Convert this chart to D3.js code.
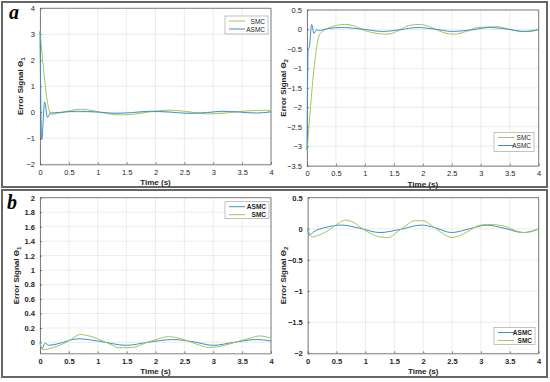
<!DOCTYPE html>
<html>
<head>
<meta charset="utf-8">
<script src="https://d3js.org/d3.v7.min.js"></script>
<style>
  body { margin: 0; background: white; }
  svg { font-family: Arial, "Liberation Sans", sans-serif; }
  .grid line { stroke: #e4e4e4; stroke-width: 0.7; }
  .axis text { fill: #262626; }
  .axis path, .axis line { stroke: #4d4d4d; stroke-width: 0.7; }
</style>
</head>
<body>
<svg id="chart" width="550" height="382"></svg>
<script>
// ---- data ----
var smcColor = "#a3c65c";
var asmcColor = "#3f8fc5";

// panel a, theta 1
var a1_smc_t = [0, 0.17, 0.2, 0.3, 0.5, 0.7, 0.9, 1.1, 1.35, 1.6, 1.9, 2.25, 2.5, 2.9, 3.2, 3.5, 3.9, 4];
var a1_smc_y = [3.14, 0, -0.08, -0.04, 0.05, 0.12, 0.07, -0.02, -0.1, -0.08, 0.02, 0.08, 0.04, -0.06, -0.03, 0.04, 0.08, 0.07];
var a1_asmc_t = [0, 0.03, 0.08, 0.13, 0.18, 0.25, 0.65, 1.0, 1.3, 1.6, 1.9, 2.25, 2.55, 2.9, 3.15, 3.45, 3.75, 4];
var a1_asmc_y = [3.1, -1.05, 0.4, -0.2, -0.03, -0.02, 0.04, 0.01, -0.04, -0.01, 0.04, 0.01, -0.04, -0.01, 0.04, 0.01, -0.03, 0.02];

// panel a, theta 2
var a2_smc_t = [0, 0.22, 0.3, 0.45, 0.65, 0.8, 0.95, 1.2, 1.4, 1.55, 1.75, 1.95, 2.15, 2.4, 2.55, 2.75, 2.95, 3.3, 3.5, 3.7, 3.85, 4];
var a2_smc_y = [-3.14, -0.12, -0.02, 0.08, 0.13, 0.1, 0, -0.1, -0.12, -0.05, 0.1, 0.13, 0.05, -0.1, -0.12, -0.05, 0.05, 0.07, 0, -0.05, -0.05, 0];
var a2_asmc_t = [0, 0.02, 0.04, 0.08, 0.12, 0.17, 0.2, 0.35, 0.6, 0.95, 1.3, 1.6, 1.9, 2.2, 2.5, 2.85, 3.15, 3.45, 3.75, 4];
var a2_asmc_y = [-3.1, -0.5, -0.45, 0.13, -0.1, 0, -0.03, 0.02, 0.05, 0.01, -0.05, -0.01, 0.05, 0.01, -0.05, -0.01, 0.05, 0.01, -0.05, 0];

// panel b, theta 1
var b1_asmc_t = [0, 0.03, 0.09, 0.15, 0.3, 0.66, 1.0, 1.5, 1.85, 2.3, 2.65, 3.0, 3.35, 3.75, 4];
var b1_asmc_y = [0, -0.09, -0.01, -0.04, -0.02, 0.05, 0.02, -0.04, 0, 0.04, 0.01, -0.04, 0, 0.04, 0.02];
var b1_smc_t = [0, 0.05, 0.14, 0.3, 0.45, 0.55, 0.7, 0.8, 1.0, 1.2, 1.38, 1.6, 1.85, 2.05, 2.22, 2.45, 2.7, 2.92, 3.2, 3.45, 3.65, 3.8, 4];
var b1_smc_y = [0, -0.1, -0.09, -0.05, 0, 0.05, 0.11, 0.1, 0.05, -0.02, -0.075, -0.07, 0, 0.05, 0.08, 0.05, -0.02, -0.07, -0.04, 0.02, 0.06, 0.09, 0.06];

// panel b, theta 2
var b2_asmc_t = [0, 0.03, 0.1, 0.3, 0.59, 0.9, 1.25, 1.6, 1.97, 2.2, 2.49, 2.8, 3.1, 3.4, 3.73, 4];
var b2_asmc_y = [0, -0.1, -0.05, 0.02, 0.06, 0.01, -0.06, -0.01, 0.06, 0.02, -0.06, 0, 0.06, 0.01, -0.06, 0];
var b2_smc_t = [0, 0.08, 0.2, 0.4, 0.55, 0.65, 0.8, 0.95, 1.1, 1.25, 1.4, 1.55, 1.7, 1.85, 2.0, 2.15, 2.3, 2.5, 2.6, 2.8, 2.95, 3.1, 3.3, 3.45, 3.6, 3.75, 3.85, 4];
var b2_smc_y = [0, -0.13, -0.1, 0, 0.1, 0.14, 0.1, 0, -0.08, -0.13, -0.14, -0.05, 0.05, 0.13, 0.13, 0.05, -0.05, -0.14, -0.12, -0.03, 0.05, 0.07, 0.06, 0.03, -0.03, -0.06, -0.05, 0];

var xTicks = [0, 0.5, 1, 1.5, 2, 2.5, 3, 3.5, 4];
var yTicksA1 = [-2, -1, 0, 1, 2, 3, 4];
var yTicksA2 = [-3.5, -3, -2.5, -2, -1.5, -1, -0.5, 0, 0.5];
var yTicksB1 = [0, 0.2, 0.4, 0.6, 0.8, 1, 1.2, 1.4, 1.6, 1.8, 2];
var yTicksB2 = [-2, -1.5, -1, -0.5, 0, 0.5];

var svg = d3.select("#chart");

// panel frames
svg.append("rect").attr("x", 2).attr("y", 2).attr("width", 545).attr("height", 185)
  .attr("fill", "none").attr("stroke", "#666").attr("stroke-width", 2);
svg.append("rect").attr("x", 2).attr("y", 190).attr("width", 545).attr("height", 187)
  .attr("fill", "none").attr("stroke", "#666").attr("stroke-width", 2);

svg.append("text").text("a").attr("x", 9).attr("y", 19)
  .style("font-family", "'Liberation Serif', serif").style("font-style", "italic")
  .style("font-weight", "bold").style("font-size", "20px");
svg.append("text").text("b").attr("x", 7).attr("y", 209)
  .style("font-family", "'Liberation Serif', serif").style("font-style", "italic")
  .style("font-weight", "bold").style("font-size", "20px");

function drawPlot(cfg) {
  var x = d3.scaleLinear().domain([0, 4]).range([cfg.x0, cfg.x1]);
  var y = d3.scaleLinear().domain(cfg.yDomain).range([cfg.y1, cfg.y0]);
  var g = svg.append("g");
  var bold = cfg.bold ? "bold" : "normal";

  // grid
  g.append("g").attr("class", "grid").selectAll("line").data(xTicks).join("line")
    .attr("x1", d => x(d)).attr("x2", d => x(d)).attr("y1", cfg.y0).attr("y2", cfg.y1);
  g.append("g").attr("class", "grid").selectAll("line").data(cfg.yTicks).join("line")
    .attr("y1", d => y(d)).attr("y2", d => y(d)).attr("x1", cfg.x0).attr("x2", cfg.x1);

  // axes
  var ax = g.append("g").attr("class", "axis").attr("transform", "translate(0," + cfg.y1 + ")")
    .call(d3.axisBottom(x).tickValues(xTicks).tickSizeInner(-2).tickSizeOuter(0).tickPadding(5).tickFormat(d3.format("")));
  var ay = g.append("g").attr("class", "axis").attr("transform", "translate(" + cfg.x0 + ",0)")
    .call(d3.axisLeft(y).tickValues(cfg.yTicks).tickSizeInner(-2).tickSizeOuter(0).tickPadding(5).tickFormat(d3.format("")));
  g.selectAll(".axis text").style("font-size", "7.5px").style("font-weight", bold);
  // top & right box edges
  g.append("line").attr("x1", cfg.x0).attr("x2", cfg.x1).attr("y1", cfg.y0).attr("y2", cfg.y0)
    .attr("stroke", "#4d4d4d").attr("stroke-width", 0.7);
  g.append("line").attr("x1", cfg.x1).attr("x2", cfg.x1).attr("y1", cfg.y0).attr("y2", cfg.y1)
    .attr("stroke", "#4d4d4d").attr("stroke-width", 0.7);

  // lines
  var line = d3.line().x(d => x(d[0])).y(d => y(d[1])).curve(d3.curveMonotoneX);
  cfg.series.forEach(function(s) {
    var pts = s.t.map((t, i) => [t, s.v[i]]);
    g.append("path").datum(pts).attr("d", line)
      .attr("fill", "none").attr("stroke", s.color).attr("stroke-width", 1);
  });

  // labels
  g.append("text").attr("x", (cfg.x0 + cfg.x1) / 2).attr("y", cfg.y1 + 21)
    .attr("text-anchor", "middle").style("font-size", "8px").style("font-weight", "bold")
    .attr("fill", "#262626").text("Time (s)");
  var yl = g.append("text").attr("transform", "translate(" + cfg.ylx + "," + ((cfg.y0 + cfg.y1) / 2) + ") rotate(-90)")
    .attr("text-anchor", "middle").style("font-size", "8px").style("font-weight", "bold")
    .attr("fill", "#262626");
  yl.append("tspan").text("Error Signal \u0398");
  yl.append("tspan").attr("dy", 2).style("font-size", "6px").text(cfg.sub);

  // legend
  var L = cfg.legend;
  var lg = g.append("g").attr("transform", "translate(" + L.x + "," + L.y + ")");
  lg.append("rect").attr("width", L.w).attr("height", L.h)
    .attr("fill", "white").attr("stroke", "#9a9a9a").attr("stroke-width", 0.6);
  cfg.series.forEach(function(s, i) {
    var yy = 5 + i * 8;
    lg.append("line").attr("x1", 4).attr("x2", 20).attr("y1", yy).attr("y2", yy)
      .attr("stroke", s.color).attr("stroke-width", 1);
    lg.append("text").attr("x", L.w - 3).attr("y", yy + 2.5).attr("text-anchor", "end")
      .style("font-size", "6.5px").style("font-weight", bold).attr("fill", "#262626").text(s.name);
  });
}

drawPlot({
  x0: 40, x1: 271, y0: 8.3, y1: 164.3, yDomain: [-2, 4], yTicks: yTicksA1, ylx: 23, sub: "1", bold: false,
  legend: {x: 225, y: 16, w: 43, h: 18},
  series: [{name: "SMC", color: smcColor, t: a1_smc_t, v: a1_smc_y},
           {name: "ASMC", color: asmcColor, t: a1_asmc_t, v: a1_asmc_y}]
});
drawPlot({
  x0: 307, x1: 538.7, y0: 10, y1: 165.7, yDomain: [-3.5, 0.5], yTicks: yTicksA2, ylx: 286, sub: "2", bold: false,
  legend: {x: 494, y: 132.5, w: 40, h: 19},
  series: [{name: "SMC", color: smcColor, t: a2_smc_t, v: a2_smc_y},
           {name: "ASMC", color: asmcColor, t: a2_asmc_t, v: a2_asmc_y}]
});
drawPlot({
  x0: 40, x1: 271, y0: 197.7, y1: 353.3, yDomain: [-0.15, 2], yTicks: yTicksB1, ylx: 19, sub: "1", bold: true,
  legend: {x: 225, y: 201.7, w: 44, h: 17},
  series: [{name: "ASMC", color: asmcColor, t: b1_asmc_t, v: b1_asmc_y},
           {name: "SMC", color: smcColor, t: b1_smc_t, v: b1_smc_y}]
});
drawPlot({
  x0: 307.7, x1: 538.7, y0: 197.7, y1: 353.3, yDomain: [-2, 0.5], yTicks: yTicksB2, ylx: 286, sub: "2", bold: true,
  legend: {x: 494, y: 327.5, w: 41, h: 17},
  series: [{name: "ASMC", color: asmcColor, t: b2_asmc_t, v: b2_asmc_y},
           {name: "SMC", color: smcColor, t: b2_smc_t, v: b2_smc_y}]
});
</script>
</body>
</html>
